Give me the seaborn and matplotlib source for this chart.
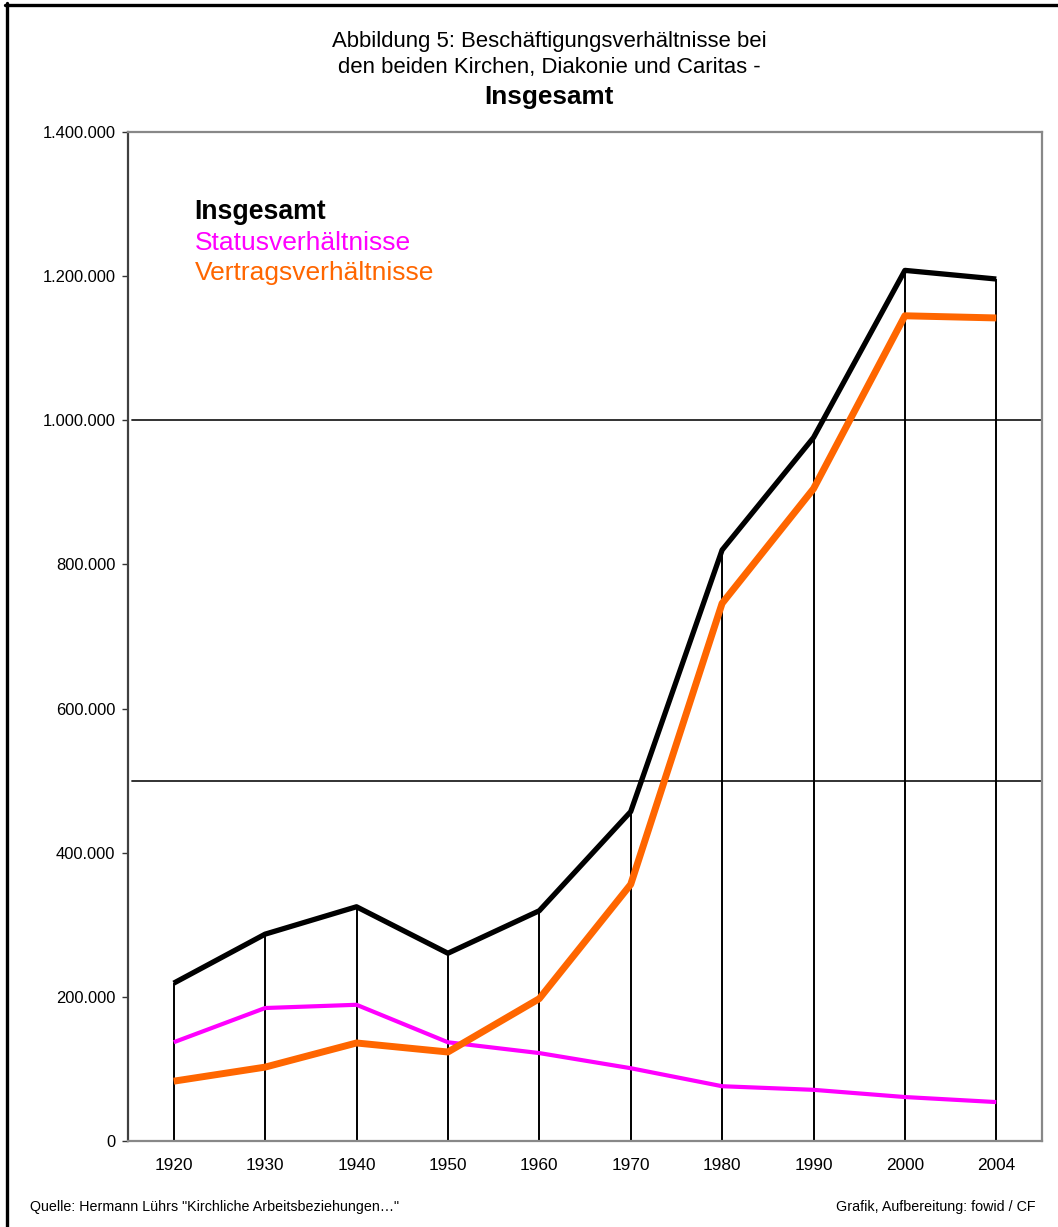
import matplotlib
matplotlib.use("Agg")
import matplotlib.pyplot as plt
import seaborn as sns
import pandas as pd
import numpy as np
from matplotlib.lines import Line2D
from matplotlib.ticker import FuncFormatter

years = ["1920", "1930", "1940", "1950", "1960", "1970", "1980", "1990", "2000", "2004"]
insgesamt = [219000, 287000, 325000, 260500, 319500, 457000, 820000, 976000, 1208000, 1196000]
status = [137000, 184500, 189000, 137000, 122000, 101000, 76000, 71000, 61000, 54000]
vertrag = [83000, 102500, 136000, 123500, 197500, 356000, 746000, 905000, 1145000, 1142000]
y_ticks = [0, 200000, 400000, 600000, 800000, 1000000, 1200000, 1400000]
grid_values = [500000, 1000000]

df = pd.DataFrame({"Jahr": years, "Insgesamt": insgesamt,
                   "Statusverhältnisse": status, "Vertragsverhältnisse": vertrag})

sns.set_theme(style="white")
plt.rcParams["font.family"] = ["Liberation Sans", "DejaVu Sans"]
plt.rcParams["text.color"] = "black"
plt.rcParams["xtick.color"] = "black"
plt.rcParams["ytick.color"] = "black"

fig = plt.figure(figsize=(10.58, 12.27), dpi=100)
ax = fig.add_axes([128/1058, 1 - 1141/1227, 914/1058, 1009/1227])

# drop lines from 0 to total
ax.vlines(np.arange(len(years)), 0, df["Insgesamt"], color="black", lw=1.4, zorder=2)

for yv in grid_values:
    ax.axhline(yv, xmin=0.004, color="#222222", lw=1.3, zorder=1)

kw = dict(ax=ax, sort=False, solid_capstyle="butt")
sns.lineplot(data=df, x="Jahr", y="Statusverhältnisse", color="#FF00FF", lw=3.0, zorder=3, **kw)
sns.lineplot(data=df, x="Jahr", y="Vertragsverhältnisse", color="#FF6600", lw=5.0, zorder=4, **kw)
sns.lineplot(data=df, x="Jahr", y="Insgesamt", color="black", lw=3.8, zorder=5, **kw)

ax.set_xlim(-0.5, len(years) - 0.5)
ax.set_ylim(0, 1400000)
ax.set_yticks(y_ticks)
ax.yaxis.set_major_formatter(FuncFormatter(lambda v, p: f"{v:,.0f}".replace(",", ".")))
ax.set_xlabel("")
ax.set_ylabel("")
ax.tick_params(axis="y", left=True, length=4, width=1, color="#333333", labelsize=11.9, pad=5, labelcolor="black")
ax.tick_params(axis="x", bottom=False, length=0, labelsize=12.4, pad=12, labelcolor="black")

ax.spines["left"].set_color("#404040")
ax.spines["left"].set_linewidth(1.6)
for s in ["top", "right", "bottom"]:
    ax.spines[s].set_color("#888888")
    ax.spines[s].set_linewidth(1.6)

# legend-like text
ax.text(0.073, 0.921, "Insgesamt", transform=ax.transAxes, fontsize=19.2, fontweight="bold", color="black", va="center")
ax.text(0.073, 0.890, "Statusverhältnisse", transform=ax.transAxes, fontsize=19, color="#FF00FF", va="center")
ax.text(0.073, 0.860, "Vertragsverhältnisse", transform=ax.transAxes, fontsize=19, color="#FF6600", va="center")

# title
fig.text(0.519, 1 - 42/1227, "Abbildung 5: Beschäftigungsverhältnisse bei", ha="center", va="center", fontsize=15.9, color="black")
fig.text(0.519, 1 - 68/1227, "den beiden Kirchen, Diakonie und Caritas -", ha="center", va="center", fontsize=15.9, color="black")
fig.text(0.519, 1 - 97/1227, "Insgesamt", ha="center", va="center", fontsize=18.8, fontweight="bold", color="black")

# footer
fig.text(30/1058, 1 - 1207/1227, "Quelle: Hermann Lührs \"Kirchliche Arbeitsbeziehungen…\"", ha="left", va="center", fontsize=10.3, color="black")
fig.text(1035/1058, 1 - 1207/1227, "Grafik, Aufbereitung: fowid / CF", ha="right", va="center", fontsize=10.3, color="black")

# figure border (top and left)
fig.add_artist(Line2D([5/1058, 1], [1 - 4.5/1227, 1 - 4.5/1227], transform=fig.transFigure, color="black", lw=2.4))
fig.add_artist(Line2D([6.5/1058, 6.5/1058], [0, 1 - 3/1227], transform=fig.transFigure, color="black", lw=2.4))

fig.savefig("out.png", dpi=100, facecolor="white")
